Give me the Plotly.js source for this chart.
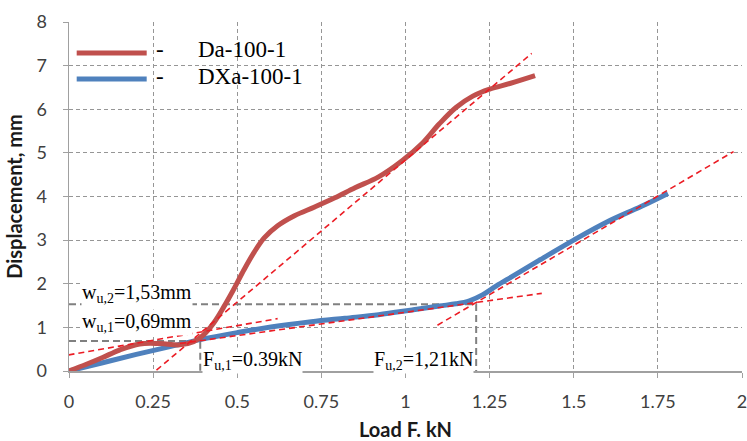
<!DOCTYPE html>
<html>
<head>
<meta charset="utf-8">
<script src="https://cdn.plot.ly/plotly-3.0.1.min.js"></script>
<style>html,body{margin:0;padding:0;background:#fff;}#chart{width:747px;height:441px;}</style>
</head>
<body>
<div id="chart"></div>
<script>
// Series: Da-100-1 (red)
const daLoad = [0, 0.05, 0.10, 0.15, 0.21, 0.27, 0.33, 0.37, 0.40, 0.43, 0.46, 0.49, 0.52, 0.55, 0.58, 0.62, 0.67, 0.73, 0.79, 0.85, 0.92, 0.99, 1.05, 1.10, 1.15, 1.20, 1.25, 1.31, 1.385];
const daDisp = [0, 0.15, 0.31, 0.48, 0.62, 0.63, 0.60, 0.67, 0.83, 1.10, 1.47, 1.88, 2.32, 2.72, 3.05, 3.33, 3.56, 3.76, 3.97, 4.20, 4.45, 4.82, 5.22, 5.66, 6.04, 6.30, 6.46, 6.59, 6.77];
// Series: DXa-100-1 (blue)
const dxaLoad = [0, 0.1, 0.2, 0.3, 0.39, 0.5, 0.6, 0.72, 0.82, 0.92, 1.02, 1.10, 1.15, 1.19, 1.23, 1.27, 1.32, 1.40, 1.50, 1.60, 1.70, 1.78];
const dxaDisp = [0, 0.19, 0.38, 0.56, 0.72, 0.88, 1.01, 1.13, 1.21, 1.29, 1.40, 1.49, 1.54, 1.61, 1.75, 1.95, 2.18, 2.55, 3.00, 3.42, 3.77, 4.07];
// Tangent (bilinear) lines
const tanDaLowX = [-0.06, 0.62],  tanDaLowY = [0.29, 1.20];
const tanDaHighX = [0.26, 1.375], tanDaHighY = [0.02, 7.28];
const tanDxaLowX = [0.33, 1.405], tanDxaLowY = [0.63, 1.78];
const tanDxaHighX = [1.095, 1.975], tanDxaHighY = [1.05, 5.03];
// Ultimate points
const fu = [0.39, 1.21];
const wu = [0.69, 1.53];
const fuLabels = ['F<sub>u,1</sub>=0.39kN', 'F<sub>u,2</sub>=1,21kN'];
const wuLabels = ['w<sub>u,1</sub>=0,69mm', 'w<sub>u,2</sub>=1,53mm'];
const seriesNames = ['Da-100-1', 'DXa-100-1'];
const xTicks = [0, 0.25, 0.5, 0.75, 1, 1.25, 1.5, 1.75, 2];
const xTickText = ['0', '0.25', '0.5', '0.75', '1', '1.25', '1.5', '1.75', '2'];
const yTicks = [0, 1, 2, 3, 4, 5, 6, 7, 8];

const RED = 'rgb(192,80,77)';
const BLUE = 'rgb(79,129,189)';
const TAN = 'rgb(235,28,36)';
const REF = 'rgb(128,128,128)';

const traces = [];
// reference gray lines
for (let i = 0; i < fu.length; i++) {
  traces.push({
    x: [0, fu[i], fu[i]], y: [wu[i], wu[i], 0], mode: 'lines', showlegend: false, hoverinfo: 'skip',
    line: {color: REF, width: 2, dash: '7px,4px'}
  });
}
traces.push({x: dxaLoad, y: dxaDisp, mode: 'lines', name: '\u00a0', legendrank: 2,
  line: {color: BLUE, width: 5, shape: 'spline', smoothing: 1}});
traces.push({x: daLoad, y: daDisp, mode: 'lines', name: '\u00a0', legendrank: 1,
  line: {color: RED, width: 5, shape: 'spline', smoothing: 1}});
[[tanDaLowX, tanDaLowY], [tanDaHighX, tanDaHighY], [tanDxaLowX, tanDxaLowY], [tanDxaHighX, tanDxaHighY]].forEach(function (t) {
  traces.push({x: t[0], y: t[1], mode: 'lines', showlegend: false, hoverinfo: 'skip',
    line: {color: TAN, width: 1.6, dash: '6px,4px'}});
});

const serif = 'Liberation Serif, Times New Roman, serif';
const annFont = {family: serif, size: 20, color: '#000'};
const legFont = {family: serif, size: 23, color: '#000'};
const annotations = [
  {x: 0.035, y: 1.77, xref: 'x', yref: 'y', text: wuLabels[1], showarrow: false, xanchor: 'left', yanchor: 'middle', font: annFont, bgcolor: '#fff', borderpad: 0},
  {x: 0.035, y: 1.11, xref: 'x', yref: 'y', text: wuLabels[0], showarrow: false, xanchor: 'left', yanchor: 'middle', font: annFont, bgcolor: '#fff', borderpad: 0},
  {x: fu[0] + 0.005, y: 0.25, xref: 'x', yref: 'y', text: fuLabels[0], showarrow: false, xanchor: 'left', yanchor: 'middle', font: annFont, bgcolor: '#fff', borderpad: 0},
  {x: fu[1] - 0.005, y: 0.25, xref: 'x', yref: 'y', text: fuLabels[1], showarrow: false, xanchor: 'right', yanchor: 'middle', font: annFont, bgcolor: '#fff', borderpad: 0},
  // legend labels
  {x: 0.135, y: 0.922, xref: 'paper', yref: 'paper', text: '-', showarrow: false, xanchor: 'center', yanchor: 'middle', font: legFont},
  {x: 0.135, y: 0.845, xref: 'paper', yref: 'paper', text: '-', showarrow: false, xanchor: 'center', yanchor: 'middle', font: legFont},
  {x: 0.188, y: 0.922, xref: 'paper', yref: 'paper', text: seriesNames[0], showarrow: false, xanchor: 'left', yanchor: 'middle', font: legFont},
  {x: 0.188, y: 0.845, xref: 'paper', yref: 'paper', text: seriesNames[1], showarrow: false, xanchor: 'left', yanchor: 'middle', font: legFont}
];

const tickFont = {family: 'Lato, Open Sans, sans-serif', size: 18, color: '#404040'};
const layout = {
  width: 747, height: 441,
  margin: {l: 69, r: 5, t: 22, b: 70},
  paper_bgcolor: '#fff', plot_bgcolor: '#fff',
  showlegend: true,
  legend: {x: 0.004, y: 0.963, xanchor: 'left', yanchor: 'top', bgcolor: 'rgba(0,0,0,0)', itemwidth: 70,
    font: {family: serif, size: 17.7, color: '#000'}, tracegroupgap: 0},
  xaxis: {
    range: [0, 2], tickvals: xTicks, ticktext: xTickText, tickfont: tickFont, ticklabeloverflow: 'allow',
    showgrid: true, gridcolor: 'rgb(150,150,150)', gridwidth: 1, griddash: '4px,3px',
    zeroline: false, showline: true, linecolor: 'rgb(160,160,160)', linewidth: 1.5,
    ticks: 'outside', ticklen: 5, tickcolor: 'rgb(160,160,160)', ticklabelstandoff: 9,
    title: {text: 'Load F. kN', font: {family: 'Lato, Open Sans, sans-serif', size: 20, color: '#1a1a1a', weight: 'bold'}, standoff: 20}
  },
  yaxis: {
    range: [0, 8], tickvals: yTicks, tickfont: tickFont,
    showgrid: true, gridcolor: 'rgb(150,150,150)', gridwidth: 1, griddash: '4px,3px',
    zeroline: false, showline: true, linecolor: 'rgb(160,160,160)', linewidth: 1.5,
    ticks: 'outside', ticklen: 5, tickcolor: 'rgb(160,160,160)', ticklabelstandoff: 12,
    title: {text: 'Displacement, mm', font: {family: 'Lato, Open Sans, sans-serif', size: 20, color: '#1a1a1a', weight: 'bold'}, standoff: 8}
  },
  annotations: annotations
};

Plotly.newPlot('chart', traces, layout, {staticPlot: true, displayModeBar: false});
</script>
</body>
</html>
